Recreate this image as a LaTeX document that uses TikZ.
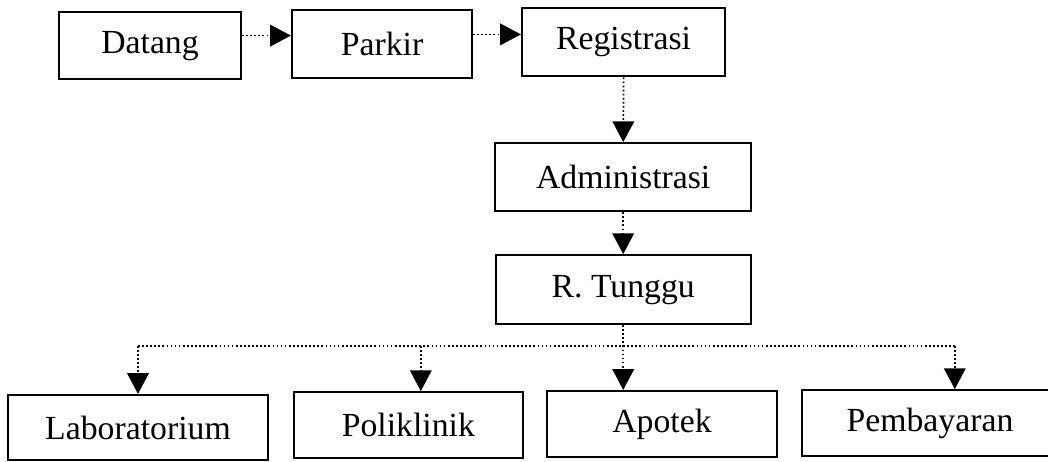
\documentclass[tikz,border=0pt]{standalone}
\usepackage{fontspec}
\setmainfont{Liberation Serif}
\usepackage{tikz}
\usetikzlibrary{arrows.meta}
\usetikzlibrary{positioning}
\tikzset{box/.style = {draw, line width = 1.5pt, inner sep = 0, font = \fontsize{24}{28}\selectfont}}
\tikzset{flow/.style = {line width = 1.2pt, dash pattern = on 1.2pt off 1.7pt,
                        -{Triangle[length = 5.2mm, width = 5.4mm]}}}
\tikzset{flowline/.style = {line width = 1.2pt, dash pattern = on 1.2pt off 1.7pt}}

\begin{document}
\begin{tikzpicture}
    \useasboundingbox (0, 0) rectangle (26.2, -11.55);

    \node [box, minimum width = 4.55cm, minimum height = 1.68cm] (datang) at (3.75, -1.14) {Datang};
    \node [box, minimum width = 4.5cm, minimum height = 1.7cm] (parkir) at (9.55, -1.11) {Parkir};
    \node [box, minimum width = 5.08cm, minimum height = 1.72cm] (registrasi) at (15.59, -1.05) {Registrasi};
    \node [box, minimum width = 6.4cm, minimum height = 1.7cm] (administrasi) at (15.58, -4.43) {Administrasi};
    \node [box, minimum width = 6.38cm, minimum height = 1.72cm] (tunggu) at (15.58, -7.24) {R. Tunggu};

    \node [box, minimum width = 6.5cm, minimum height = 1.63cm] (lab) at (3.45, -10.69) {Laboratorium};
    \node [box, minimum width = 5.72cm, minimum height = 1.65cm] (poli) at (10.21, -10.63) {Poliklinik};
    \node [box, minimum width = 5.75cm, minimum height = 1.65cm] (apotek) at (16.55, -10.6) {Apotek};
    \node [box, minimum width = 6.4cm, minimum height = 1.65cm] (bayar) at (23.25, -10.58) {Pembayaran};

    \draw [flow] ([yshift = 2.5mm]datang.east) -- ([yshift = 2.5mm]datang.east -| parkir.west);
    \draw [flow] ([yshift = 2.5mm]parkir.east) -- ([yshift = 2.5mm]parkir.east -| registrasi.west);
    \draw [flow] (registrasi.south) -- (administrasi.north);
    \draw [flow] (administrasi.south) -- (tunggu.north);

    \coordinate (bar) at (0, -8.65);
    \coordinate (poli in) at ([xshift = 3.1mm]poli.north);
    \coordinate (bayar in) at ([xshift = 6.2mm]bayar.north);

    \draw [flow] (tunggu.south) -- (tunggu.south |- apotek.north);
    \draw [flowline] (lab.north |- bar) -- (bayar in |- bar);
    \draw [flow] (lab.north |- bar) -- (lab.north);
    \draw [flow] (poli in |- bar) -- (poli in);
    \draw [flow] (bayar in |- bar) -- (bayar in);
\end{tikzpicture}
\end{document}
